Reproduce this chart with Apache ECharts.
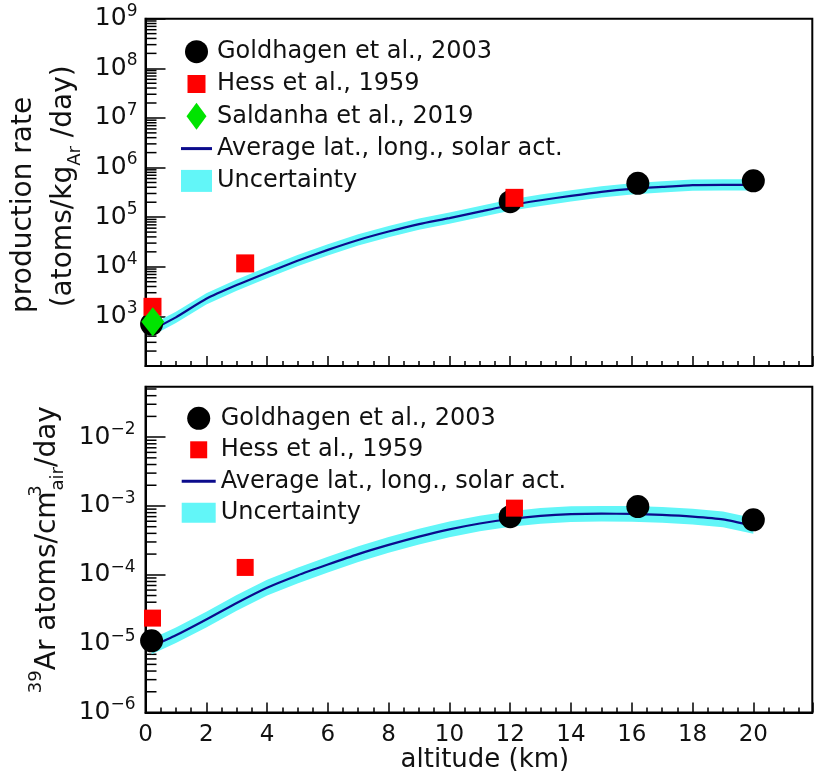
<!DOCTYPE html>
<html>
<head>
<meta charset="utf-8">
<script src="https://cdn.jsdelivr.net/npm/echarts@6/dist/echarts.min.js"></script>
<style>html,body{margin:0;padding:0;background:#fff}#c{width:817px;height:771px}</style>
</head>
<body>
<div id="c"></div>
<script>
// ---------------- data ----------------
const altitudeCurve = [0.2, 1, 2, 3, 4, 5, 6, 7, 8, 9, 10, 11, 12, 13, 14, 15, 16, 17, 18, 19, 20];
// top panel: production rate (atoms/kg_Ar/day)
const prodRateCurve = [525, 955, 2260, 4270, 7600, 13200, 21900, 34700, 51300, 72400, 95500, 129000, 174000, 219000, 269000, 324000, 372000, 407000, 442000, 447000, 447000];
const prodRateLow   = [404, 735, 1740, 3280, 5850, 10200, 16800, 26700, 39500, 55700, 73500, 99200, 134000, 168000, 207000, 249000, 286000, 313000, 340000, 344000, 344000];
const prodRateHigh  = [683, 1240, 2940, 5550, 9880, 17200, 28500, 45100, 66700, 94100, 124000, 168000, 226000, 285000, 350000, 421000, 484000, 529000, 575000, 581000, 581000];
// bottom panel: 39Ar atoms/cm3_air/day
const airRateCurve = [9.1e-6, 1.32e-5, 2.24e-5, 3.9e-5, 6.5e-5, 9.8e-5, 1.41e-4, 2.0e-4, 2.72e-4, 3.59e-4, 4.57e-4, 5.56e-4, 6.46e-4, 7.16e-4, 7.59e-4, 7.73e-4, 7.67e-4, 7.41e-4, 7.0e-4, 6.38e-4, 5.13e-4];
const airRateLow   = [7.0e-6, 1.02e-5, 1.72e-5, 3.0e-5, 5.0e-5, 7.5e-5, 1.08e-4, 1.54e-4, 2.09e-4, 2.76e-4, 3.52e-4, 4.28e-4, 4.97e-4, 5.51e-4, 5.84e-4, 5.95e-4, 5.9e-4, 5.7e-4, 5.38e-4, 4.91e-4, 3.95e-4];
const airRateHigh  = [1.18e-5, 1.72e-5, 2.91e-5, 5.07e-5, 8.45e-5, 1.27e-4, 1.83e-4, 2.6e-4, 3.54e-4, 4.67e-4, 5.94e-4, 7.23e-4, 8.4e-4, 9.31e-4, 9.87e-4, 1.0e-3, 9.97e-4, 9.63e-4, 9.1e-4, 8.29e-4, 6.67e-4];

const goldhagenAlt  = [0.2, 12.0, 16.2, 20.0];
const goldhagenProd = [700, 205000, 480000, 540000];
const goldhagenAir  = [1.1e-5, 7.0e-4, 9.8e-4, 6.3e-4];
const hessAlt  = [0.23, 3.28, 12.14];
const hessProd = [1560, 11700, 245000];
const hessAir  = [2.35e-5, 1.28e-4, 9.3e-4];
const saldanhaAlt  = [0.24];
const saldanhaProd = [780];

const xTickLabels = ['0', '2', '4', '6', '8', '10', '12', '14', '16', '18', '20'];
const topYRange = [1e2, 1e9];
const bottomYRange = [1e-6, 0.054];

// ---------------- helpers ----------------
const F = 'DejaVu Sans';
const TXT = '#111';
const NAVY = '#0b0b8c';
const CYAN = '#62f6f8';
const RED = '#ff0000';
const GREEN = '#00e400';
const names = {
  g: 'Goldhagen et al., 2003',
  h: 'Hess et al., 1959',
  s: 'Saldanha et al., 2019',
  a: 'Average lat., long., solar act.',
  u: 'Uncertainty'
};
function zip(xs, ys) { return xs.map((x, i) => [x, ys[i]]); }

const minorTop = [];
for (let e = 2; e < 9; e++) for (let m = 2; m <= 9; m++) minorTop.push(m * Math.pow(10, e));
const minorBottom = [];
for (let e = -6; e < -1; e++) for (let m = 2; m <= 9; m++) { const v = m * Math.pow(10, e); if (v < bottomYRange[1]) minorBottom.push(v); }

function powLabel(v) {
  const l = Math.log10(v); const e = Math.round(l);
  if (Math.abs(l - e) > 1e-6) return '';
  return '{b|10}{s|' + (e < 0 ? '\u2212' + (-e) : String(e)) + '}';
}
const labelRich = {
  b: { fontSize: 25, fontFamily: F, color: TXT, lineHeight: 32 },
  s: { fontSize: 17, fontFamily: F, color: TXT, lineHeight: 15, verticalAlign: 'top' }
};

function xAxisDef(gi, showLabels) {
  return {
    gridIndex: gi, type: 'value', min: 0, max: 21.94, interval: 2,
    axisLine: { show: true, lineStyle: { color: '#000', width: 2 } },
    axisTick: { show: true, inside: true, length: 10, lineStyle: { color: '#000', width: 1.5 } },
    minorTick: { show: true, splitNumber: 4, length: 5, lineStyle: { color: '#000', width: 1.5 } },
    splitLine: { show: false },
    axisLabel: {
      show: showLabels, margin: 11, fontSize: 23, fontFamily: F, color: TXT,
      showMaxLabel: false,
      formatter: v => { const i = Math.round(v / 2); return (Math.abs(v - 2 * i) < 1e-6 && i < xTickLabels.length) ? xTickLabels[i] : ''; }
    },
    name: showLabels ? 'altitude (km)' : '',
    nameLocation: 'middle', nameGap: 26,
    nameTextStyle: { fontSize: 26, fontFamily: F, color: TXT, padding: [0, 0, 0, 12] }
  };
}

function bandSeries(gi, lo, hi) {
  return {
    type: 'custom', name: names.u, xAxisIndex: gi, yAxisIndex: gi, z: 1, silent: true,
    itemStyle: { color: CYAN },
    data: [[altitudeCurve[0], lo[0]]],
    renderItem: function (params, api) {
      const pts = [];
      for (let i = 0; i < altitudeCurve.length; i++) pts.push(api.coord([altitudeCurve[i], hi[i]]));
      for (let i = altitudeCurve.length - 1; i >= 0; i--) pts.push(api.coord([altitudeCurve[i], lo[i]]));
      return { type: 'polygon', shape: { points: pts }, style: { fill: CYAN } };
    }
  };
}
function minorTickSeries(gi, ticks) {
  return {
    type: 'custom', xAxisIndex: gi, yAxisIndex: gi, z: 0.5, silent: true,
    data: [[0, ticks[0]]],
    renderItem: function (params, api) {
      const x0 = params.coordSys.x;
      const children = ticks.map(v => {
        const p = api.coord([0, v]);
        return { type: 'line', shape: { x1: x0, y1: p[1], x2: x0 + 11, y2: p[1] }, style: { stroke: '#000', lineWidth: 1.5 } };
      });
      return { type: 'group', children: children };
    }
  };
}
function lineSeries(gi, ys) {
  return {
    type: 'line', name: names.a, xAxisIndex: gi, yAxisIndex: gi, z: 2,
    data: zip(altitudeCurve, ys), showSymbol: false, smooth: 0.2, silent: true,
    lineStyle: { color: NAVY, width: 2.2 }, itemStyle: { color: NAVY }
  };
}
function scatterSeries(gi, name, xs, ys, symbol, size, color, z) {
  return {
    type: 'scatter', name: name, xAxisIndex: gi, yAxisIndex: gi, z: z, silent: true,
    data: zip(xs, ys), symbol: symbol, symbolSize: size,
    itemStyle: { color: color, borderWidth: 0, opacity: 1 }
  };
}

const legendText = { fontSize: 24, fontFamily: F, color: TXT };

const option = {
  backgroundColor: '#fff',
  animation: false,
  grid: [
    { left: 145.5, top: 18.7, width: 666.8, height: 347.3, show: true, borderColor: '#000', borderWidth: 2, backgroundColor: 'transparent', outerBoundsMode: 'none' },
    { left: 145.5, top: 386.7, width: 666.8, height: 325.8, show: true, borderColor: '#000', borderWidth: 2, backgroundColor: 'transparent', outerBoundsMode: 'none' }
  ],
  xAxis: [xAxisDef(0, false), xAxisDef(1, true)],
  yAxis: [
    {
      gridIndex: 0, type: 'log', logBase: 10, min: topYRange[0], max: topYRange[1], interval: 1,
      axisLine: { show: true, lineStyle: { color: '#000', width: 2 } },
      axisTick: { show: true, inside: true, length: 20, lineStyle: { color: '#000', width: 1.5 } },
      splitLine: { show: false },
      axisLabel: { margin: 8, formatter: powLabel, rich: labelRich, showMinLabel: false },
      name: '{l1|production rate}\n{l2|(atoms/kg}{sub|Ar}{m| /day)}',
      nameLocation: 'middle', nameGap: 45, nameRotate: 90,
      nameTextStyle: {
        fontSize: 28, fontFamily: F, color: TXT, lineHeight: 40,
        rich: {
          l1: { fontSize: 28, fontFamily: F, color: TXT, lineHeight: 40, padding: [0, 25, 0, 0] },
          l2: { fontSize: 28, fontFamily: F, color: TXT, lineHeight: 40, padding: [0, 0, 0, 12] },
          m: { fontSize: 28, fontFamily: F, color: TXT, lineHeight: 40 },
          sub: { fontSize: 18, fontFamily: F, color: TXT, lineHeight: 10, verticalAlign: 'bottom' }
        }
      }
    },
    {
      gridIndex: 1, type: 'log', logBase: 10, min: bottomYRange[0], max: bottomYRange[1], interval: 1,
      axisLine: { show: true, lineStyle: { color: '#000', width: 2 } },
      axisTick: { show: true, inside: true, length: 20, lineStyle: { color: '#000', width: 1.5 } },
      splitLine: { show: false },
      axisLabel: { margin: 10, formatter: powLabel, rich: labelRich, showMaxLabel: false },
      name: '{sup|39}{m|Ar atoms/cm}{sup3|3}{sub|air}{m|/day}',
      nameLocation: 'middle', nameGap: 56, nameRotate: 90,
      nameTextStyle: {
        fontSize: 28, fontFamily: F, color: TXT, lineHeight: 40,
        rich: {
          m: { fontSize: 28, fontFamily: F, color: TXT, lineHeight: 40 },
          sup: { fontSize: 18, fontFamily: F, color: TXT, lineHeight: 5, verticalAlign: 'top' },
          sup3: { fontSize: 18, fontFamily: F, color: TXT, lineHeight: 8, verticalAlign: 'top', width: 1 },
          sub: { fontSize: 18, fontFamily: F, color: TXT, lineHeight: 12, verticalAlign: 'bottom' }
        }
      }
    }
  ],
  legend: [
    {
      orient: 'vertical', left: 176, top: 33.2, itemWidth: 31, itemHeight: 27, itemGap: 5.3,
      selectedMode: false, textStyle: legendText,
      data: [
        { name: names.g, icon: 'path://M0,0M31,27M4,13.5a11.5,11.5 0 1 0 23,0a11.5,11.5 0 1 0 -23,0Z', itemStyle: { color: '#000', borderWidth: 0 } },
        { name: names.h, icon: 'path://M0,0M31,27M6.5,4.5h18v18h-18Z', itemStyle: { color: RED, borderWidth: 0 } },
        { name: names.s, icon: 'path://M0,0M31,27M15.5,0L25.5,13.5L15.5,27L5.5,13.5Z', itemStyle: { color: GREEN, borderWidth: 0 } },
        { name: names.a, icon: 'path://M0,0M31,27M0,12h31v3h-31Z', itemStyle: { color: NAVY, borderWidth: 0 } },
        { name: names.u, icon: 'path://M0,0M31,27M0,2.5h31v22h-31Z', itemStyle: { color: CYAN, borderWidth: 0 } }
      ]
    },
    {
      orient: 'vertical', left: 176.7, top: 399.8, itemWidth: 34, itemHeight: 27, itemGap: 4.5,
      selectedMode: false, textStyle: legendText,
      data: [
        { name: names.g, icon: 'path://M0,0M34,27M5.5,13.5a11.5,11.5 0 1 0 23,0a11.5,11.5 0 1 0 -23,0Z', itemStyle: { color: '#000', borderWidth: 0 } },
        { name: names.h, icon: 'path://M0,0M34,27M8.5,5h17v17h-17Z', itemStyle: { color: RED, borderWidth: 0 } },
        { name: names.a, icon: 'path://M0,0M34,27M0,12h34v3h-34Z', itemStyle: { color: NAVY, borderWidth: 0 } },
        { name: names.u, icon: 'path://M0,0M34,27M0,3.5h34v20h-34Z', itemStyle: { color: CYAN, borderWidth: 0 } }
      ]
    }
  ],
  series: [
    bandSeries(0, prodRateLow, prodRateHigh),
    lineSeries(0, prodRateCurve),
    scatterSeries(0, names.g, goldhagenAlt, goldhagenProd, 'circle', 23, '#000', 3),
    scatterSeries(0, names.h, hessAlt, hessProd, 'rect', 18, RED, 4),
    scatterSeries(0, names.s, saldanhaAlt, saldanhaProd, 'diamond', [23, 29], GREEN, 5),
    minorTickSeries(0, minorTop),
    bandSeries(1, airRateLow, airRateHigh),
    lineSeries(1, airRateCurve),
    scatterSeries(1, names.g, goldhagenAlt, goldhagenAir, 'circle', 23, '#000', 3),
    scatterSeries(1, names.h, hessAlt, hessAir, 'rect', 17, RED, 4),
    minorTickSeries(1, minorBottom)
  ]
};

const chart = echarts.init(document.getElementById('c'), null, { renderer: 'canvas' });
chart.setOption(option);
</script>
</body>
</html>
